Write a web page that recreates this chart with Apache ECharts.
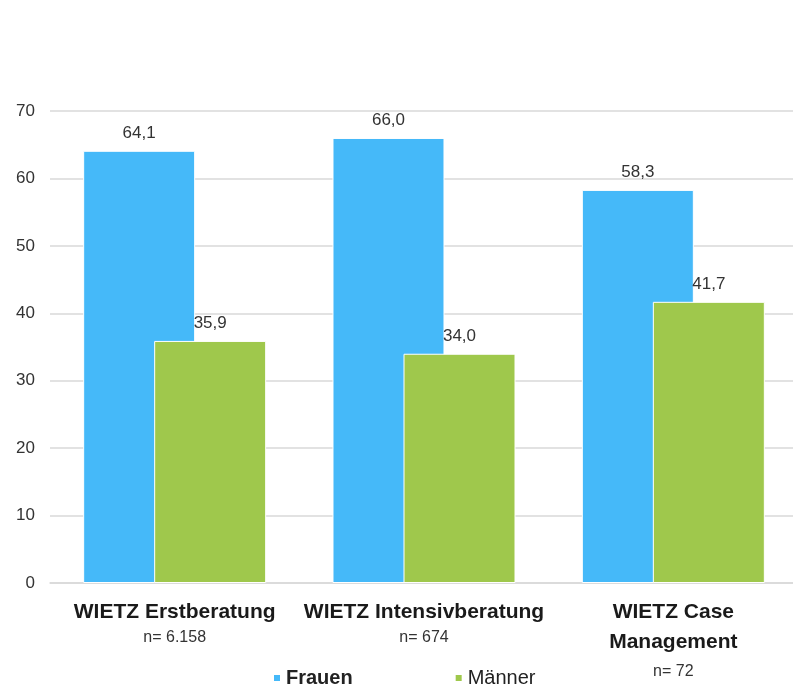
<!DOCTYPE html>
<html>
<head>
<meta charset="utf-8">
<title>WIETZ</title>
<script src="https://cdn.jsdelivr.net/npm/echarts@6/dist/echarts.min.js"></script>
<style>
  html, body { margin: 0; padding: 0; background: #fff; }
  #chart { width: 793px; height: 687px; }
</style>
</head>
<body>
<div id="chart"></div>
<script>
// Daten
const categories = ['WIETZ Erstberatung', 'WIETZ Intensivberatung', 'WIETZ Case\nManagement']
const sampleSizes = ['n= 6.158', 'n= 674', 'n= 72']
const frauen = [64.1, 66.0, 58.3]
const maenner = [35.9, 34.0, 41.7]
const yTicks = { min: 0, max: 70, interval: 10 }

const chart = echarts.init(document.getElementById('chart'))

// Wert mit Dezimalkomma
const fmt = (p) => p.value.toFixed(1).replace('.', ',')

const label = {
  show: true,
  position: 'top',
  distance: 9,
  fontSize: 17,
  color: '#333',
  fontFamily: 'Liberation Sans, Arial, sans-serif',
  formatter: fmt
}

chart.setOption({
  textStyle: { fontFamily: 'Liberation Sans, Arial, sans-serif' },
  grid: { left: 50, width: 748, top: 111, bottom: 104, outerBoundsMode: 'none' },
  legend: {
    top: 663,
    left: 267,
    icon: 'rect',
    itemWidth: 8,
    itemHeight: 8,
    itemGap: 101,
    textStyle: { fontSize: 20, color: '#222' },
    data: [
      { name: 'Frauen', textStyle: { fontWeight: 'bold' } },
      { name: 'Männer' }
    ]
  },
  xAxis: {
    type: 'category',
    data: categories,
    axisTick: { show: false },
    axisLine: { lineStyle: { color: '#d9d9d9', width: 1.5 } },
    axisLabel: {
      interval: 0,
      margin: 14,
      formatter: function (value, idx) {
        const lines = value.split('\n').map(l => '{b|' + l + '}').join('\n')
        const nStyle = value.indexOf('\n') >= 0 ? 'n3' : 'n'
        return lines + '\n{' + nStyle + '|' + sampleSizes[idx] + '}'
      },
      rich: {
        b: { fontSize: 21, fontWeight: 'bold', color: '#1a1a1a', lineHeight: 30 },
        n: { fontSize: 16, color: '#333', lineHeight: 22 },
        n3: { fontSize: 16, color: '#333', lineHeight: 30 }
      }
    }
  },
  yAxis: {
    type: 'value',
    min: yTicks.min,
    max: yTicks.max,
    interval: yTicks.interval,
    axisLine: { show: false },
    axisTick: { show: false },
    axisLabel: { fontSize: 17, color: '#333', margin: 15 },
    splitLine: { lineStyle: { color: '#d9d9d9', width: 1.5 } }
  },
  series: [
    {
      name: 'Frauen',
      type: 'bar',
      data: frauen,
      barWidth: 112,
      barGap: '-36.6%',
      itemStyle: { color: '#45b9f9', borderColor: '#fff', borderWidth: 1 },
      label: label
    },
    {
      name: 'Männer',
      type: 'bar',
      data: maenner,
      barWidth: 112,
      itemStyle: { color: '#9fc84c', borderColor: '#fff', borderWidth: 1 },
      label: label
    }
  ]
})
</script>
</body>
</html>
